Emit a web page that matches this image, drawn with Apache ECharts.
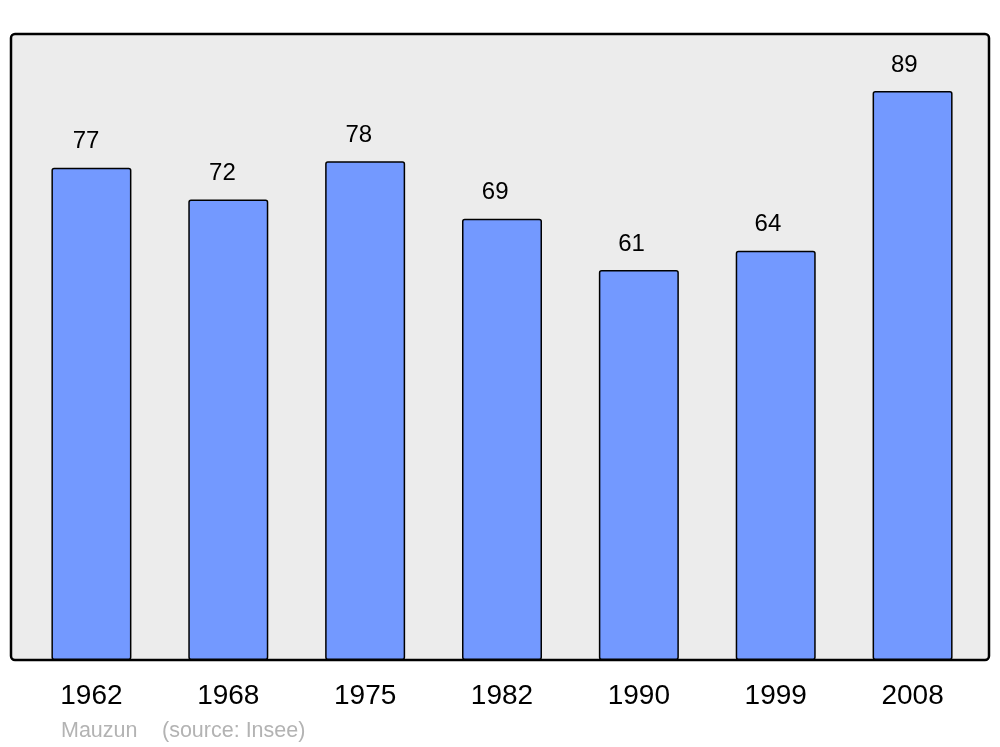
<!DOCTYPE html>
<html>
<head>
<meta charset="utf-8">
<script src="https://cdn.jsdelivr.net/npm/echarts@6/dist/echarts.min.js"></script>
<style>html,body{margin:0;padding:0;background:#fff;}#c{width:1000px;height:747px;}</style>
</head>
<body>
<div id="c"></div>
<script>
const categories = ['1962', '1968', '1975', '1982', '1990', '1999', '2008'];
const population = [77, 72, 78, 69, 61, 64, 89];
const placeName = 'Mauzun';
const sourceText = '(source: Insee)';

const chart = echarts.init(document.getElementById('c'), null, {renderer: 'canvas'});
const FONT = '"Liberation Sans", Arial, sans-serif';
chart.setOption({
  animation: false,
  backgroundColor: '#ffffff',
  textStyle: {fontFamily: FONT},
  graphic: [
    {type: 'rect', z: -10, shape: {x: 11, y: 34, width: 978, height: 626, r: 4},
     style: {fill: '#ececec', stroke: '#000', lineWidth: 2.5}, silent: true},
    {type: 'text', left: 61, top: 720, style: {text: placeName, fill: '#b3b3b3', font: '21.5px ' + FONT}},
    {type: 'text', left: 162, top: 720, style: {text: sourceText, fill: '#b3b3b3', font: '21.5px ' + FONT}}
  ],
  grid: {left: 23, right: 19, top: 34, bottom: 87, containLabel: false},
  xAxis: {
    type: 'category', data: categories,
    axisLine: {show: false}, axisTick: {show: false},
    axisLabel: {color: '#000', fontSize: 28, margin: 22, fontFamily: FONT}
  },
  yAxis: {type: 'value', min: 0, max: 97.9, show: false, splitLine: {show: false}},
  series: [{
    type: 'bar', barWidth: 80,
    data: population.map((v, i) => ({value: v, label: {offset: [-5.4 - 0.48 * i, 0]}})),
    itemStyle: {color: '#7399ff', borderColor: '#000', borderWidth: 1.5, borderRadius: 2},
    label: {show: true, position: 'top', distance: 14, color: '#000', fontSize: 24, fontFamily: FONT}
  }]
});
</script>
</body>
</html>
